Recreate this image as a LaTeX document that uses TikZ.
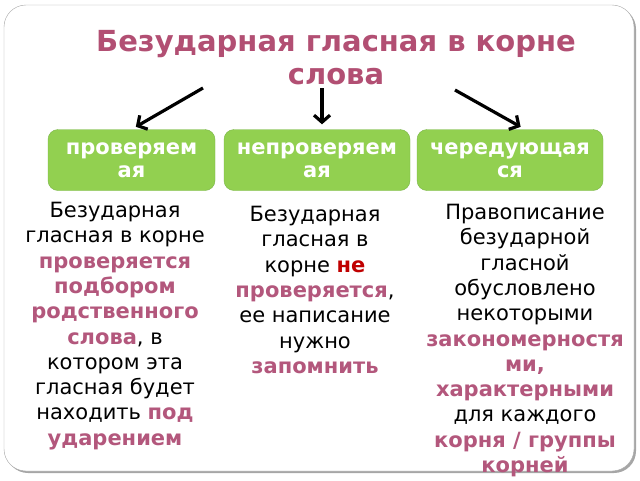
\documentclass[tikz,border=0pt]{standalone}
\usepackage{fontspec}
\setmainfont{DejaVu Sans}
\usetikzlibrary{arrows.meta,shadows}
\definecolor{titlepink}{HTML}{B24F73}
\definecolor{wordpink}{HTML}{B3577C}
\definecolor{notred}{HTML}{C00000}
\definecolor{boxgreen}{HTML}{92D050}
\definecolor{boxedge}{HTML}{7AB648}
\newcommand{\hlword}[1]{\textbf{\textcolor{wordpink}{#1}}}

\begin{document}
\begin{tikzpicture}[x=1pt,y=-1pt,
    kind/.style={draw=boxedge, fill=boxgreen, rounded corners=10pt, minimum height=61pt,
                 text=white, align=center, inner sep=0pt, font=\fontsize{21}{23}\selectfont\bfseries},
    rule/.style={anchor=north, align=center, inner sep=0pt, font=\fontsize{21}{25.3}\selectfont},
    pointer/.style={line width=3.2pt, -{Straight Barb[length=7pt,width=16pt]}, shorten >=5pt}]

                                \useasboundingbox (0,0) rectangle (640,480);
                                \draw[rounded corners=22pt, draw=gray!70, fill=white,
                                      drop shadow={shadow xshift=2pt, shadow yshift=-2pt, opacity=0.7}] (4,5) rectangle (634,471);

                                \node[anchor=north, align=center, inner sep=0pt, text=titlepink,
                                      font=\fontsize{29}{33}\selectfont\bfseries] (title) at (336,30) {Безударная гласная в корне\\слова};

                                \node[kind, minimum width=167pt] (checked) at (131.5,160) {проверяем\\ая};
                                \node[kind, minimum width=186pt] (unchecked) at (317,160) {непроверяем\\ая};
                                \node[kind, minimum width=186pt] (alternating) at (510,160) {чередующая\\ся};

                                \coordinate (t1) at (203,88);
                                \coordinate (t2) at (322,88);
                                \coordinate (t3) at (455,90);
                                \draw[pointer] (t1) -- (checked.north);
                                \draw[pointer] (t2) -- (t2 |- unchecked.north);
                                \draw[pointer] (t3) -- ([xshift=15pt]alternating.north);

                                \node[rule] (rule1) at (115,202) {Безударная\\гласная в корне\\\hlword{проверяется}\\\hlword{подбором}\\\hlword{родственного}\\\hlword{слова}, в\\котором эта\\гласная будет\\находить \hlword{под}\\\hlword{ударением}};
                                \node[rule] (rule2) at (315,206) {Безударная\\гласная в\\корне \textbf{\textcolor{notred}{не}}\\\hlword{проверяется},\\ее написание\\нужно\\\hlword{запомнить}};
                                \node[rule] (rule3) at (525,204) {Правописание\\безударной\\гласной\\обусловлено\\некоторыми\\\hlword{закономерностя}\\\hlword{ми,}\\\hlword{характерными}\\для каждого\\\hlword{корня / группы}\\\hlword{корней}};
                            \end{tikzpicture}
\end{document}
